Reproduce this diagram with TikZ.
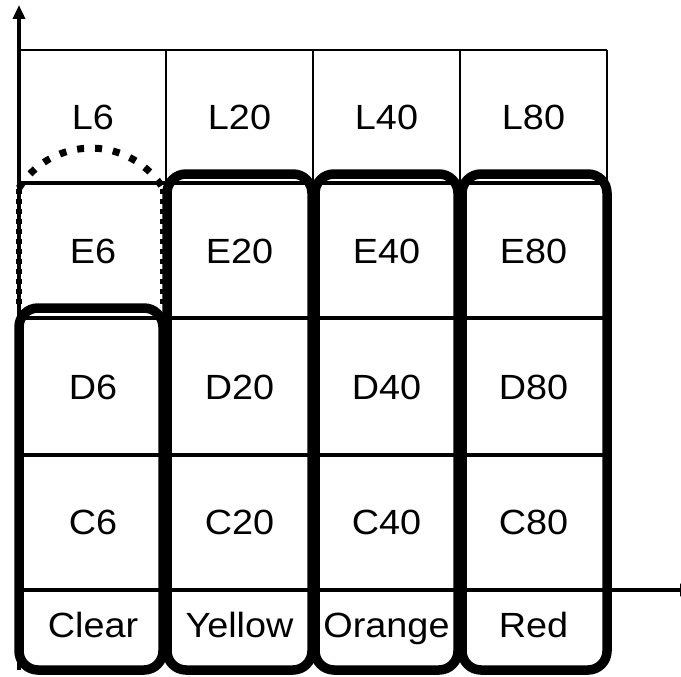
\documentclass[tikz,border=0pt]{standalone}
\usepackage{fontspec}
\setmainfont{Liberation Sans}
\newfontfamily\cellfont[FakeStretch=1.08]{Liberation Sans}
\usetikzlibrary{arrows.meta}
\begin{document}
\begin{tikzpicture}[x=1pt,y=-1pt,
  thingrid/.style={line width=1.4pt},
  rowrule/.style={line width=3.2pt},
  axisline/.style={line width=3.5pt,-{Triangle[length=14pt,width=12pt]}},
  groupbox/.style={line width=9.5pt,rounded corners=19pt},
  domeside/.style={line width=5.5pt,dash pattern=on 5pt off 5pt},
  domearc/.style={line width=7pt,dash pattern=on 7pt off 11pt},
  celltext/.style={font=\cellfont\fontsize{35}{40}\selectfont,anchor=base,inner sep=0pt}]
\useasboundingbox (0,0) rectangle (681,677);

% header row outline (thin)
\draw[thingrid] (20,50) -- (607,50);
\foreach \x in {166,313,460,607}
  \draw[thingrid] (\x,50) -- (\x,183);

% row rules
\foreach \y in {183,318,455}
  \draw[rowrule] (20,\y) -- (607,\y);

% axes
\coordinate (ybase) at (19,670);
\coordinate (origin) at (19,590);
\coordinate (ytip) at (19,5);
\coordinate (xtip) at (694,590);
\draw[axisline] (ybase) -- (ytip);
\draw[axisline] (origin) -- (xtip);

% cell labels
\foreach \c/\x in {6/93,20/239.5,40/386.5,80/533.5}{
  \node[celltext] (L\c) at (\x,129) {L\c};
  \node[celltext] (E\c) at (\x,263) {E\c};
  \node[celltext] (D\c) at (\x,399) {D\c};
  \node[celltext] (C\c) at (\x,534.5) {C\c};
}
\node[celltext] (clear)  at (93,637)    {Clear};
\node[celltext] (yellow) at (239.5,637) {Yellow};
\node[celltext] (orange) at (386.5,637) {Orange};
\node[celltext] (red)    at (533.5,637) {Red};

% dotted dome over the first column
\draw[domeside] (19,304) -- (19,188);
\draw[domeside] (163,304) -- (163,188);
\draw[domearc] (19,188) arc[start angle=212,end angle=328,radius=84.8];

% grouping boxes
\draw[groupbox] (19,308) rectangle (163,670);
\draw[groupbox] (167,174) rectangle (312,670);
\draw[groupbox] (315,174) rectangle (458,670);
\draw[groupbox] (462,174) rectangle (607,670);
\end{tikzpicture}
\end{document}
